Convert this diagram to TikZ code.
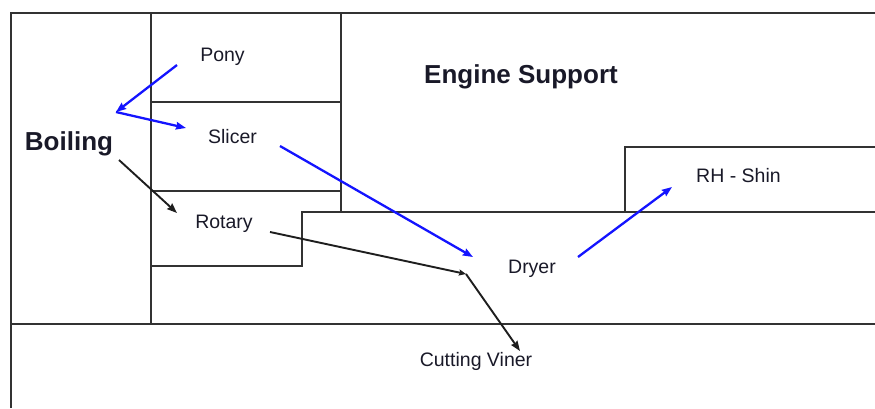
\documentclass[tikz,border=0pt]{standalone}
\usepackage{fontspec}
\setmainfont{Liberation Sans}
\usetikzlibrary{arrows.meta}
\definecolor{framegray}{RGB}{50,50,50}
\definecolor{arrowblue}{RGB}{20,20,255}
\definecolor{arrowdark}{RGB}{30,30,30}
\definecolor{textdark}{RGB}{25,25,40}
\tikzset{
  frameline/.style={draw=framegray,line width=1.7pt},
  small/.style={inner sep=0pt,anchor=base,text=textdark,font=\fontsize{19.5}{23}\selectfont},
  big/.style={inner sep=0pt,anchor=base,text=textdark,font=\fontsize{26}{30}\selectfont\bfseries},
  bluearrow/.style={draw=arrowblue,line width=2.3pt,-{Stealth[length=10pt,width=7.5pt,inset=1pt]}},
  darkarrow/.style={draw=arrowdark,line width=1.9pt,-{Stealth[length=10pt,width=7.5pt,inset=1pt]}}
}
\begin{document}
\begin{tikzpicture}[x=1pt,y=-1pt]
\useasboundingbox (0,0) rectangle (875,408);
% frame lines
\draw[frameline] (11,408) -- (11,13) -- (875,13);
\draw[frameline] (151,13) -- (151,324);
\draw[frameline] (341,13) -- (341,212);
\draw[frameline] (151,102) -- (341,102);
\draw[frameline] (151,191) -- (341,191);
\draw[frameline] (151,266) -- (302,266) -- (302,212) -- (625,212) -- (625,147) -- (875,147);
\draw[frameline] (625,212) -- (875,212);
\draw[frameline] (11,324) -- (875,324);
% labels
\node[small] (pony) at (222.5,61) {Pony};
\node[small] (slicer) at (232.5,143) {Slicer};
\node[big] (boiling) at (69,150) {Boiling};
\node[big] (engine) at (521,83) {Engine Support};
\node[small] (rotary) at (224,228) {Rotary};
\node[small] (dryer) at (532,273) {Dryer};
\node[small] (rhshin) at (738.5,182) {RH - Shin};
\node[small] (viner) at (476,366) {Cutting Viner};
% connector end points
\coordinate (ponyout) at (177,65);
\coordinate (bjoin) at (116,112);
\coordinate (slicerin) at (186,128);
\coordinate (slicerout) at (280,146);
\coordinate (dryerin) at (473,257);
\coordinate (dryerout) at (578,257);
\coordinate (rhin) at (672,187);
\coordinate (boilout) at (119,160);
\coordinate (rotaryin) at (177,213);
\coordinate (rotaryout) at (270,232);
\coordinate (vjoin) at (466,274);
\coordinate (vinerin) at (520,351);
% arrows
\draw[bluearrow] (ponyout) -- (bjoin);
\draw[bluearrow] (bjoin) -- (slicerin);
\draw[bluearrow] (slicerout) -- (dryerin);
\draw[bluearrow] (dryerout) -- (rhin);
\draw[darkarrow] (boilout) -- (rotaryin);
\draw[darkarrow,-{Stealth[length=7pt,width=6pt,inset=1pt]}] (rotaryout) -- (vjoin);
\draw[darkarrow] (vjoin) -- (vinerin);
\end{tikzpicture}
\end{document}
